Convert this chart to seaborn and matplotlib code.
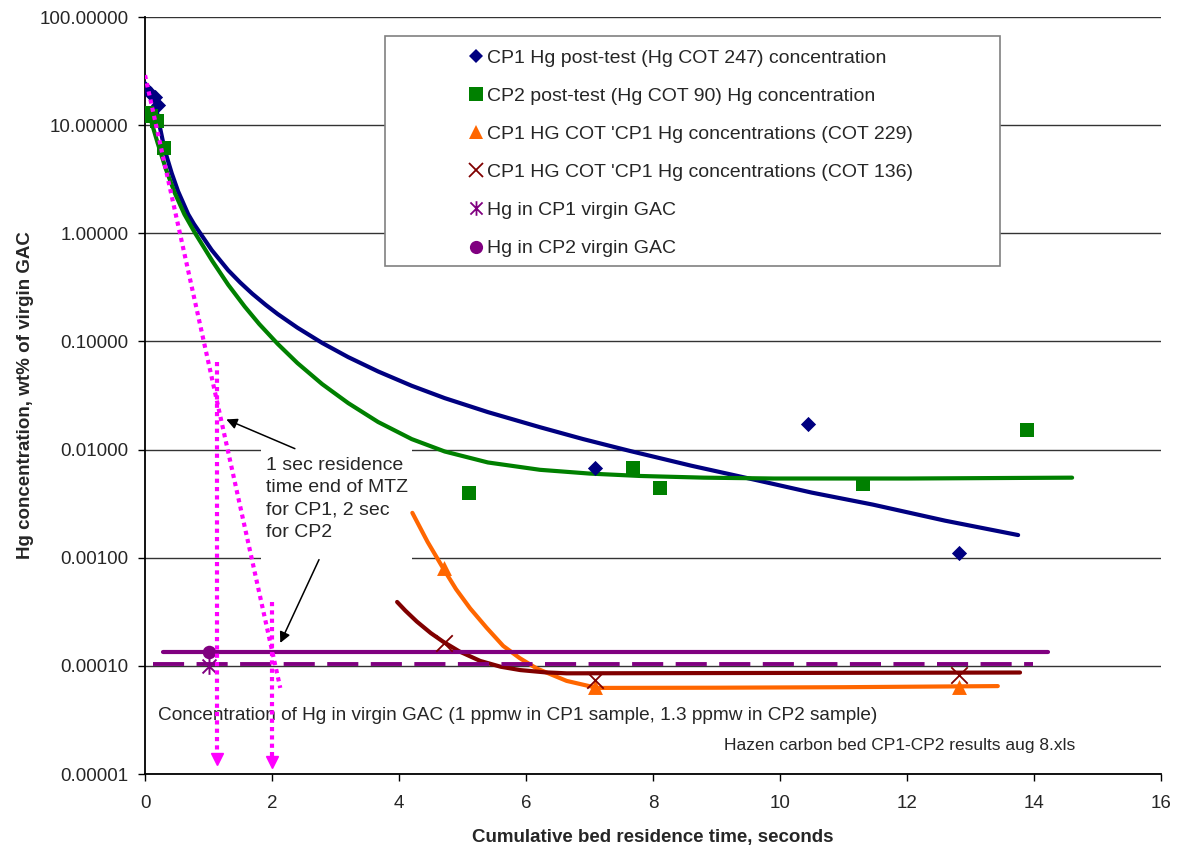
import matplotlib
matplotlib.use("Agg")
import matplotlib.pyplot as plt
import seaborn as sns
from matplotlib.lines import Line2D
from matplotlib.patches import Rectangle
from matplotlib.path import Path
from matplotlib.ticker import FixedLocator, FuncFormatter

# measured points
cp1_x = [0.0, 0.08, 0.16, 0.2, 7.09, 10.44, 12.82]
cp1_y = [22.0, 19.8, 18.2, 15.3, 0.0068, 0.0174, 0.00111]

cp2_x = [0.03, 0.1, 0.19, 0.3, 5.10, 7.68, 8.11, 11.31, 13.89]
cp2_y = [13.0, 12.2, 11.0, 6.1, 0.0040, 0.0068, 0.00445, 0.00484, 0.0153]

cot229_x = [4.71, 7.09, 12.82]
cot229_y = [0.00081, 0.0000643, 0.0000643]

cot136_x = [4.71, 7.09, 12.82]
cot136_y = [0.000163, 0.0000741, 0.0000826]

virgin_cp1_x = [1.0]
virgin_cp1_y = [0.0001]
virgin_cp2_x = [1.0]
virgin_cp2_y = [0.000135]

# trendlines
cp1_fit_x = [0.08, 0.12, 0.16, 0.22, 0.31, 0.42, 0.52, 0.68, 0.77, 0.87, 1.05, 1.31, 1.5, 1.69,
             1.9, 2.09, 2.4, 2.79, 3.2, 3.67, 4.2, 4.72, 5.4, 6.22, 6.9, 7.64, 8.6, 9.64, 10.5,
             11.46, 12.6, 13.75]
cp1_fit_y = [21.0, 18.5, 16.0, 10.5, 5.9, 3.6, 2.45, 1.5, 1.22, 1.0, 0.70, 0.455, 0.350, 0.276,
             0.218, 0.179, 0.134, 0.0968, 0.0716, 0.0528, 0.0389, 0.0299, 0.0222, 0.0161, 0.0125,
             0.0097, 0.0071, 0.0052, 0.0040, 0.0031, 0.0022, 0.00162]

cp2_fit_x = [0.05, 0.12, 0.2, 0.33, 0.47, 0.62, 0.79, 1.06, 1.31, 1.57, 1.8, 2.09, 2.4, 2.79,
             3.2, 3.67, 4.2, 4.72, 5.4, 6.22, 7.0, 7.8, 8.8, 9.9, 12.0, 14.6]
cp2_fit_y = [13.8, 9.8, 6.8, 3.9, 2.35, 1.5, 1.0, 0.554, 0.334, 0.21, 0.1445, 0.0948, 0.0631,
             0.0403, 0.0269, 0.018, 0.0125, 0.0096, 0.0076, 0.0065, 0.0060, 0.0057, 0.0055,
             0.0054, 0.0054, 0.0055]

cot229_fit_x = [4.21, 4.45, 4.70, 4.9, 5.12, 5.38, 5.64, 5.9, 6.17, 6.64, 7.12, 9.0, 11.0, 13.43]
cot229_fit_y = [0.0026, 0.0014, 0.00079, 0.00051, 0.00034, 0.000225, 0.000153, 0.000118,
                0.0000945, 0.0000726, 0.0000625, 0.0000628, 0.0000635, 0.000065]

cot136_fit_x = [3.97, 4.1, 4.28, 4.5, 4.69, 4.95, 5.28, 5.6, 5.91, 6.3, 6.64, 9.0, 11.5, 13.78]
cot136_fit_y = [0.00039, 0.000324, 0.000257, 0.000201, 0.000168, 0.000136, 0.000111, 0.0000982,
                0.0000914, 0.0000871, 0.0000853, 0.0000858, 0.0000863, 0.0000868]

virgin_cp2_line_x = [0.28, 14.22]
virgin_cp2_line_y = [0.000135, 0.000135]
virgin_cp1_line_x = [0.13, 13.98]
virgin_cp1_line_y = [0.000105, 0.000105]

# magenta guide lines
mtz_diag_x = [0.0, 2.13]
mtz_diag_y = [29.0, 0.0000625]
mtz1_x = [1.13, 1.13]
mtz1_y = [0.064, 0.0000139]
mtz2_x = [2.0, 2.0]
mtz2_y = [0.000386, 0.0000128]

y_ticks = [0.00001, 0.0001, 0.001, 0.01, 0.1, 1, 10, 100]
x_ticks = [0, 2, 4, 6, 8, 10, 12, 14, 16]

labels = ["CP1 Hg post-test (Hg COT 247) concentration",
          "CP2 post-test (Hg COT 90) Hg concentration",
          "CP1 HG COT 'CP1 Hg concentrations (COT 229)",
          "CP1 HG COT 'CP1 Hg concentrations (COT 136)",
          "Hg in CP1 virgin GAC",
          "Hg in CP2 virgin GAC"]

NAVY, GREEN, ORANGE, MAROON, PURPLE, MAGENTA = "#000080", "#008000", "#FF6600", "#800000", "#800080", "#FF00FF"

sns.set_style("white")
plt.rcParams["font.family"] = ["Liberation Sans", "DejaVu Sans"]

fig = plt.figure(figsize=(11.8, 8.46), dpi=100)
ax = fig.add_axes([0.1229, 0.0851, 0.8610, 0.8948])
ax.set_yscale("log")

fits = [(cp1_fit_x, cp1_fit_y, NAVY), (cp2_fit_x, cp2_fit_y, GREEN),
        (cot229_fit_x, cot229_fit_y, ORANGE), (cot136_fit_x, cot136_fit_y, MAROON),
        (virgin_cp2_line_x, virgin_cp2_line_y, PURPLE)]
for fx, fy, c in fits:
    sns.lineplot(x=fx, y=fy, sort=False, estimator=None, color=c, ax=ax)
    ax.lines[-1].set_linewidth(3.0)
    ax.lines[-1].set_solid_joinstyle("round")
    ax.lines[-1].set_zorder(3)
ax.plot(virgin_cp1_line_x, virgin_cp1_line_y, color=PURPLE, lw=2.8, dashes=(8, 3.2), zorder=3)

sns.scatterplot(x=cp1_x, y=cp1_y, marker="D", s=60, color=NAVY, linewidth=0, ax=ax, zorder=4)
sns.scatterplot(x=cp2_x, y=cp2_y, marker="s", s=110, color=GREEN, linewidth=0, ax=ax, zorder=4)
sns.scatterplot(x=cot229_x, y=cot229_y, marker="^", s=115, color=ORANGE, linewidth=0, ax=ax, zorder=4)
sns.scatterplot(x=cot136_x, y=cot136_y, marker="x", s=140, color=MAROON, linewidth=1.3, ax=ax, zorder=4)
sns.scatterplot(x=virgin_cp2_x, y=virgin_cp2_y, marker="o", s=95, color=PURPLE, linewidth=0, ax=ax, zorder=4)

star = Path([(-1, -1), (1, 1), (-1, 1), (1, -1), (0, -1.2), (0, 1.2)],
            [Path.MOVETO, Path.LINETO, Path.MOVETO, Path.LINETO, Path.MOVETO, Path.LINETO])
ax.plot(virgin_cp1_x, virgin_cp1_y, ls="none", marker=star, ms=12, mfc="none", mec=PURPLE, mew=1.4, zorder=4)

# magenta dotted guides
dot = (0, (1, 1))
ax.plot(mtz_diag_x, mtz_diag_y, color=MAGENTA, lw=3, linestyle=dot, zorder=6)
ax.plot(mtz1_x, mtz1_y, color=MAGENTA, lw=3, linestyle=dot, zorder=6)
ax.plot(mtz2_x, mtz2_y, color=MAGENTA, lw=3, linestyle=dot, zorder=6)
ax.plot([mtz1_x[1], mtz2_x[1]], [mtz1_y[1], mtz2_y[1]], ls="none", marker="v", ms=8,
        color=MAGENTA, zorder=6)

ax.set_xlim(0, 16)
ax.set_ylim(0.00001, 100)
ax.xaxis.set_major_locator(FixedLocator(x_ticks))
ax.yaxis.set_major_locator(FixedLocator(y_ticks))
ax.yaxis.set_minor_locator(FixedLocator([]))
ax.yaxis.set_major_formatter(FuncFormatter(lambda v, p: f"{v:.5f}"))
ax.tick_params(axis="both", which="major", labelsize=13.5, length=5, width=1, color="black",
               direction="out", pad=7, left=True, bottom=True)
ax.tick_params(axis="x", pad=10)
ax.yaxis.grid(True, color="#333333", lw=1.0)
ax.xaxis.grid(False)
ax.set_axisbelow(True)
for side in ["top", "right"]:
    ax.spines[side].set_visible(False)
for side in ["left", "bottom"]:
    ax.spines[side].set_color("black")
    ax.spines[side].set_linewidth(1.3)

ax.set_xlabel("Cumulative bed residence time, seconds", fontsize=13.5, fontweight="bold", labelpad=12)
ax.set_ylabel("Hg concentration, wt% of virgin GAC", fontsize=13.5, fontweight="bold", labelpad=4)

# text box with arrows
ax.add_patch(Rectangle((1.83, 0.00088), 4.2 - 1.83, 0.0111 - 0.00088, facecolor="white",
                       edgecolor="none", zorder=2))
ax.text(1.9, 0.0086, "1 sec residence\ntime end of MTZ\nfor CP1, 2 sec\nfor CP2", fontsize=14,
        ha="left", va="top", linespacing=1.42, zorder=7)
arrow = dict(arrowstyle="-|>", color="black", lw=1.1, mutation_scale=16, shrinkA=0, shrinkB=0)
ax.annotate("", xy=(1.28, 0.019), xytext=(2.36, 0.0102), arrowprops=arrow, zorder=7)
ax.annotate("", xy=(2.13, 0.000163), xytext=(2.74, 0.00096), arrowprops=arrow, zorder=7)

ax.text(0.2, 0.0000344, "Concentration of Hg in virgin GAC (1 ppmw in CP1 sample, 1.3 ppmw in CP2 sample)",
        fontsize=13.7, ha="left", va="center")
ax.text(14.65, 0.0000182, "Hazen carbon bed CP1-CP2 results aug 8.xls", fontsize=12.5,
        ha="right", va="center")

# legend
ax.add_patch(Rectangle((0.236, 0.671), 0.6055, 0.304, transform=ax.transAxes, facecolor="white",
                       edgecolor="#808080", lw=1.2, zorder=8))
handles = [
    Line2D([], [], ls="none", marker="D", ms=7.5, color=NAVY, mew=0),
    Line2D([], [], ls="none", marker="s", ms=9.5, color=GREEN, mew=0),
    Line2D([], [], ls="none", marker="^", ms=10, color=ORANGE, mew=0),
    Line2D([], [], ls="none", marker="x", ms=9.5, color=MAROON, mew=1.3),
    Line2D([], [], ls="none", marker=star, ms=10.5, mfc="none", mec=PURPLE, mew=1.3),
    Line2D([], [], ls="none", marker="o", ms=9.5, color=PURPLE, mew=0),
]
leg = ax.legend(handles, labels, loc="upper left", bbox_to_anchor=(0.318, 0.957), frameon=False,
                fontsize=14, handlelength=0.8, handletextpad=0.17, labelspacing=1.05,
                borderpad=0, borderaxespad=0)
leg.set_zorder(9)

fig.savefig("out.png", dpi=100)
